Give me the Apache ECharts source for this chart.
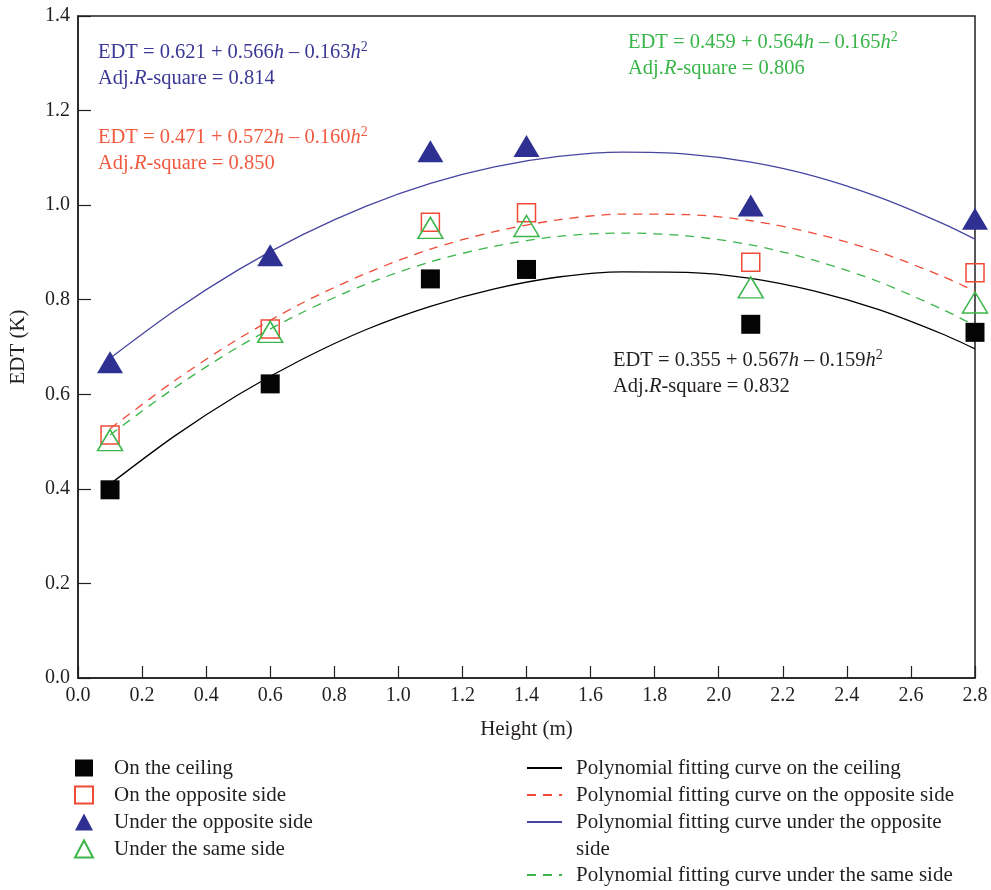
<!DOCTYPE html>
<html>
<head>
<meta charset="utf-8">
<script src="https://cdn.jsdelivr.net/npm/echarts@6/dist/echarts.min.js"></script>
<style>
html,body{margin:0;padding:0;background:#fff;}
#chart{width:991px;height:890px;}
</style>
</head>
<body>
<div id="chart"></div>
<script>
// ---- data ----
const heights = [0.1, 0.6, 1.1, 1.4, 2.1, 2.8];
const ceiling = [0.398, 0.622, 0.844, 0.864, 0.748, 0.731];
const oppositeSide = [0.514, 0.738, 0.964, 0.984, 0.879, 0.857];
const underOpposite = [0.668, 0.894, 1.114, 1.125, 0.999, 0.971];
const underSame = [0.503, 0.732, 0.952, 0.956, 0.826, 0.794];

// fitted curves, values
const curveH = [0.1, 0.3, 0.5, 0.7, 0.9, 1.1, 1.3, 1.5, 1.7, 1.9, 2.1, 2.3, 2.5, 2.7, 2.8];
const fitCeiling = [0.410, 0.511, 0.599, 0.674, 0.737, 0.786, 0.823, 0.848, 0.859, 0.858, 0.845, 0.818, 0.779, 0.727, 0.696];
const fitOppositeSide = [0.527, 0.628, 0.717, 0.793, 0.856, 0.907, 0.944, 0.969, 0.981, 0.980, 0.967, 0.940, 0.901, 0.849, 0.818];
const fitUnderOpposite = [0.676, 0.776, 0.863, 0.937, 0.998, 1.046, 1.081, 1.103, 1.112, 1.108, 1.091, 1.061, 1.017, 0.961, 0.928];
const fitUnderSame = [0.514, 0.613, 0.700, 0.773, 0.833, 0.880, 0.913, 0.934, 0.941, 0.935, 0.916, 0.883, 0.838, 0.779, 0.745];

const xTicks = ['0.0','0.2','0.4','0.6','0.8','1.0','1.2','1.4','1.6','1.8','2.0','2.2','2.4','2.6','2.8'];
const yTicks = ['0.0','0.2','0.4','0.6','0.8','1.0','1.2','1.4'];

const scatterNames = ['On the ceiling', 'On the opposite side', 'Under the opposite side', 'Under the same side'];
const lineNames = ['Polynomial fitting curve on the ceiling', 'Polynomial fitting curve on the opposite side',
  'Polynomial fitting curve under the opposite side', 'Polynomial fitting curve under the same side'];

// equation labels: [c0, c1, c2, adjR2]
const eqBlue = ['0.621', '0.566', '0.163', '0.814'];
const eqRed = ['0.471', '0.572', '0.160', '0.850'];
const eqGreen = ['0.459', '0.564', '0.165', '0.806'];
const eqBlack = ['0.355', '0.567', '0.159', '0.832'];

// ---- chart ----
const FONT = '"Liberation Serif", "DejaVu Serif", serif';
const TXT = '#231f20';
const C_BLACK = '#000000', C_RED = '#ef4b37', C_BLUE = '#2e3192', C_GREEN = '#3cb54a';
const C_BLUE_LINE = '#4845a0';
const C_BLUE_TXT = '#3b3995', C_RED_TXT = '#f15a40', C_GREEN_TXT = '#39b54a';

function pairs(xs, ys) { return xs.map((x, i) => [x, ys[i]]); }

function eqText(e) {
  return '{n|EDT = ' + e[0] + ' + ' + e[1] + '}{i|h}{n| \u2013 ' + e[2] + '}{i|h}{s|2}\n' +
         '{n|Adj.}{i|R}{n|-square = ' + e[3] + '}';
}
function eqGraphic(e, color, left, top) {
  return {
    type: 'text', left: left, top: top, z: 100,
    style: {
      text: eqText(e),
      rich: {
        n: { fontFamily: FONT, fontSize: 20.5, fill: color, color: color, lineHeight: 26 },
        i: { fontFamily: FONT, fontSize: 20.5, fontStyle: 'italic', fill: color, color: color, lineHeight: 26 },
        s: { fontFamily: FONT, fontSize: 14, fill: color, color: color, verticalAlign: 'top' }
      }
    }
  };
}

const chart = echarts.init(document.getElementById('chart'), null, { renderer: 'canvas' });

const legendText = { fontFamily: FONT, fontSize: 21, color: TXT, lineHeight: 27 };
const lineLegendBase = {
  orient: 'vertical', left: 521, padding: 5, itemGap: 0,
  itemWidth: 35, itemHeight: 18, selectedMode: false,
  itemStyle: { color: 'rgba(0,0,0,0)', borderColor: 'rgba(0,0,0,0)', borderWidth: 0, opacity: 0 },
  textStyle: Object.assign({ padding: [0, 0, 0, 9] }, legendText)
};

const option = {
  backgroundColor: '#ffffff',
  animation: false,
  grid: { left: 78, right: 16, top: 16, bottom: 212, outerBoundsMode: 'none', containLabel: false,
    show: true, borderColor: '#231f20', borderWidth: 1.5, backgroundColor: 'transparent' },
  xAxis: {
    type: 'value', min: 0, max: 2.8, interval: 0.2,
    name: 'Height (m)', nameLocation: 'middle', nameGap: 41,
    nameTextStyle: { fontFamily: FONT, fontSize: 21, color: TXT },
    axisLine: { show: true, lineStyle: { color: '#231f20', width: 1.5 } },
    axisTick: { show: true, inside: true, length: 12, lineStyle: { color: '#231f20', width: 1.2 } },
    splitLine: { show: false },
    axisLabel: { fontFamily: FONT, fontSize: 20, color: TXT, margin: 8,
      formatter: v => xTicks[Math.round(v / 0.2)] }
  },
  yAxis: {
    type: 'value', min: 0, max: 1.4, interval: 0.2,
    name: 'EDT (K)', nameLocation: 'middle', nameGap: 49, nameRotate: 90,
    nameTextStyle: { fontFamily: FONT, fontSize: 21, color: TXT },
    axisLine: { show: true, lineStyle: { color: '#231f20', width: 1.5 } },
    axisTick: { show: true, inside: true, length: 13, lineStyle: { color: '#231f20', width: 1.2 } },
    splitLine: { show: false },
    axisLabel: { fontFamily: FONT, fontSize: 20, color: TXT, margin: 8,
      formatter: v => yTicks[Math.round(v / 0.2)] }
  },
  legend: [
    {
      orient: 'vertical', left: 69, top: 749.5, padding: 5, itemGap: 0,
      itemWidth: 18, itemHeight: 17,
      textStyle: Object.assign({ padding: [0, 0, 0, 16] }, legendText), selectedMode: false,
      data: scatterNames
    },
    Object.assign({}, lineLegendBase, {
      top: 749.5,
      data: [lineNames[0], lineNames[1]]
    }),
    Object.assign({}, lineLegendBase, {
      top: 776.5,
      formatter: () => '\nPolynomial fitting curve under the opposite\nside',
      data: [lineNames[2]]
    }),
    Object.assign({}, lineLegendBase, {
      top: 856.5,
      data: [lineNames[3]]
    })
  ],
  graphic: [
    eqGraphic(eqBlue, C_BLUE_TXT, 98, 40),
    eqGraphic(eqRed, C_RED_TXT, 98, 125),
    eqGraphic(eqGreen, C_GREEN_TXT, 628, 30),
    eqGraphic(eqBlack, TXT, 613, 348)
  ],
  series: [
    { name: lineNames[0], type: 'line', smooth: 0.3, symbol: 'none', z: 3,
      data: pairs(curveH, fitCeiling), lineStyle: { color: C_BLACK, width: 1.3, type: 'solid' }, itemStyle: { color: C_BLACK } },
    { name: lineNames[1], type: 'line', smooth: 0.3, symbol: 'none', z: 3,
      data: pairs(curveH, fitOppositeSide), lineStyle: { color: C_RED, width: 1.3, type: [9, 7] }, itemStyle: { color: C_RED } },
    { name: lineNames[2], type: 'line', smooth: 0.3, symbol: 'none', z: 3,
      data: pairs(curveH, fitUnderOpposite), lineStyle: { color: C_BLUE_LINE, width: 1.3, type: 'solid' }, itemStyle: { color: C_BLUE_LINE } },
    { name: lineNames[3], type: 'line', smooth: 0.3, symbol: 'none', z: 3,
      data: pairs(curveH, fitUnderSame), lineStyle: { color: C_GREEN, width: 1.3, type: [9, 7] }, itemStyle: { color: C_GREEN } },

    { name: scatterNames[0], type: 'scatter', symbol: 'rect', symbolSize: 19, z: 4,
      data: pairs(heights, ceiling), itemStyle: { color: '#050505', borderWidth: 0, opacity: 1 } },
    { name: scatterNames[1], type: 'scatter', symbol: 'rect', symbolSize: 18, z: 4,
      data: pairs(heights, oppositeSide), itemStyle: { color: 'rgba(255,255,255,0)', borderColor: C_RED, borderWidth: 1.5, opacity: 1 } },
    { name: scatterNames[2], type: 'scatter', symbol: 'triangle', symbolSize: [26, 22], z: 4,
      data: pairs(heights, underOpposite), itemStyle: { color: C_BLUE, borderWidth: 0, opacity: 1 } },
    { name: scatterNames[3], type: 'scatter', symbol: 'triangle', symbolSize: [25, 21], z: 4,
      data: pairs(heights, underSame), itemStyle: { color: 'rgba(255,255,255,0)', borderColor: C_GREEN, borderWidth: 1.5, opacity: 1 } }
  ]
};
chart.setOption(option);
</script>
</body>
</html>
